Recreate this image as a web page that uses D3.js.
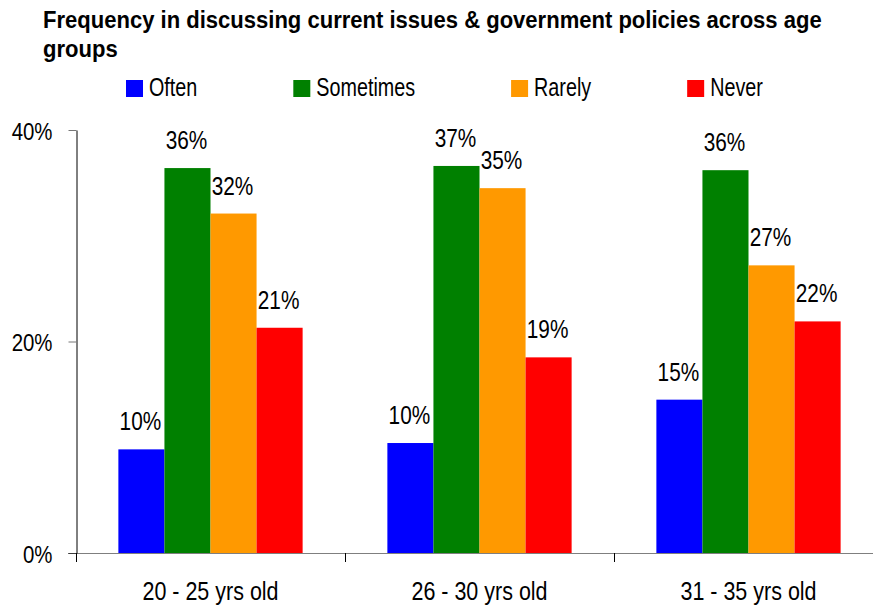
<!DOCTYPE html>
<html>
<head>
<meta charset="utf-8">
<script src="https://cdn.jsdelivr.net/npm/d3@7"></script>
<style>
  html, body { margin: 0; padding: 0; background: #fff; }
  svg { display: block; font-family: "Liberation Sans", Arial, sans-serif; }
</style>
</head>
<body>
<svg id="chart" width="873" height="606"></svg>
<script>
// Age groups on the x axis
const categories = ["20 - 25 yrs old", "26 - 30 yrs old", "31 - 35 yrs old"];
// Response frequencies (share of respondents, %)
const seriesNames = ["Often", "Sometimes", "Rarely", "Never"];
const often     = [9.8, 10.4, 14.5];
const sometimes = [36.4, 36.6, 36.2];
const rarely    = [32.1, 34.5, 27.2];
const never     = [21.3, 18.5, 21.9];
const yTicks = [0, 20, 40];
const titleLines = [
  "Frequency in discussing current issues & government policies across age",
  "groups"
];
const colors = ["#0000ff", "#008000", "#ff9900", "#ff0000"];

const seriesValues = [often, sometimes, rarely, never];
const rows = categories.map((c, i) => ({
  category: c,
  values: seriesNames.map((s, j) => ({ series: s, value: seriesValues[j][i] }))
}));

const svg = d3.select("#chart");

// Horizontally condensed text: placed at (x, y), squeezed by sx.
function condensedText(parent, x, y, str, size, sx, anchor, weight) {
  const g = parent.append("g").attr("transform", `translate(${x},${y}) scale(${sx},1)`);
  const t = g.append("text")
    .attr("x", 0).attr("y", 0)
    .attr("text-anchor", anchor || "start")
    .attr("font-size", size)
    .attr("font-weight", weight || "normal")
    .attr("fill", "#000")
    .text(str);
  return { g, t };
}

// Scales
const y = d3.scaleLinear().domain([0, 40]).range([553, 130]);
const x0 = d3.scaleBand().domain(categories).range([76, 883]).paddingInner(0).paddingOuter(0);
const x1 = d3.scaleBand().domain(seriesNames).range([0, x0.bandwidth()]).paddingInner(0).paddingOuter(0.92);
const color = d3.scaleOrdinal().domain(seriesNames).range(colors);

// Title (bold, fitted to a fixed width)
const titleWidth = 779;
const t1 = condensedText(svg, 43, 28, titleLines[0], 23, 1, "start", "bold");
const tsx = titleWidth / t1.t.node().getComputedTextLength();
t1.g.attr("transform", `translate(43,28) scale(${tsx},1)`);
condensedText(svg, 43, 57, titleLines[1], 23, tsx, "start", "bold");

// Legend
let lx = 126;
const legendSx = 0.76;
seriesNames.forEach((s) => {
  svg.append("rect")
    .attr("x", lx).attr("y", 80)
    .attr("width", 17).attr("height", 17)
    .attr("fill", color(s));
  const lt = condensedText(svg, lx + 23, 96, s, 26, legendSx, "start");
  const w = lt.t.node().getComputedTextLength() * legendSx;
  lx += 23 + w + 96;
});

// Bars
const groups = svg.append("g").selectAll("g")
  .data(rows)
  .join("g")
  .attr("transform", d => `translate(${x0(d.category)},0)`);

groups.selectAll("rect")
  .data(d => d.values)
  .join("rect")
  .attr("x", d => x1(d.series))
  .attr("y", d => y(d.value))
  .attr("width", x1.bandwidth())
  .attr("height", d => y(0) - y(d.value))
  .attr("fill", d => color(d.series));

// Value labels above each bar
groups.each(function(d) {
  const g = d3.select(this);
  d.values.forEach(v => {
    condensedText(g, x1(v.series) + x1.bandwidth() / 2 - 1, y(v.value) - 19,
      Math.round(v.value) + "%", 26, 0.8, "middle");
  });
});

// Y axis
const yAxis = svg.append("g")
  .attr("transform", "translate(76.5,0)")
  .call(d3.axisLeft(y).tickValues(yTicks).tickSize(8).tickSizeOuter(0).tickFormat(d => d + "%"));
yAxis.select(".domain").attr("stroke", "#000");
yAxis.selectAll(".tick line").attr("stroke", "#777");
yAxis.selectAll(".tick text").remove();
yAxis.selectAll(".tick").each(function(d) {
  condensedText(d3.select(this), -24, 9, d + "%", 24, 0.85, "end");
});
yAxis.selectAll(".tick").attr("transform", d => `translate(0,${y(d) + 0.5})`);

// X axis baseline
svg.append("line")
  .attr("x1", 68).attr("x2", 873)
  .attr("y1", y(0) + 0.5).attr("y2", y(0) + 0.5)
  .attr("stroke", "#000").attr("stroke-opacity", 0.5);

// Category boundary ticks
svg.append("g").selectAll("line")
  .data(categories)
  .join("line")
  .attr("x1", d => Math.round(x0(d)) + 0.5)
  .attr("x2", d => Math.round(x0(d)) + 0.5)
  .attr("y1", y(0)).attr("y2", y(0) + 9)
  .attr("stroke", "#000");

// Category labels
categories.forEach(c => {
  condensedText(svg, x0(c) + x0.bandwidth() / 2, 600, c, 25, 0.86, "middle");
});
</script>
</body>
</html>
